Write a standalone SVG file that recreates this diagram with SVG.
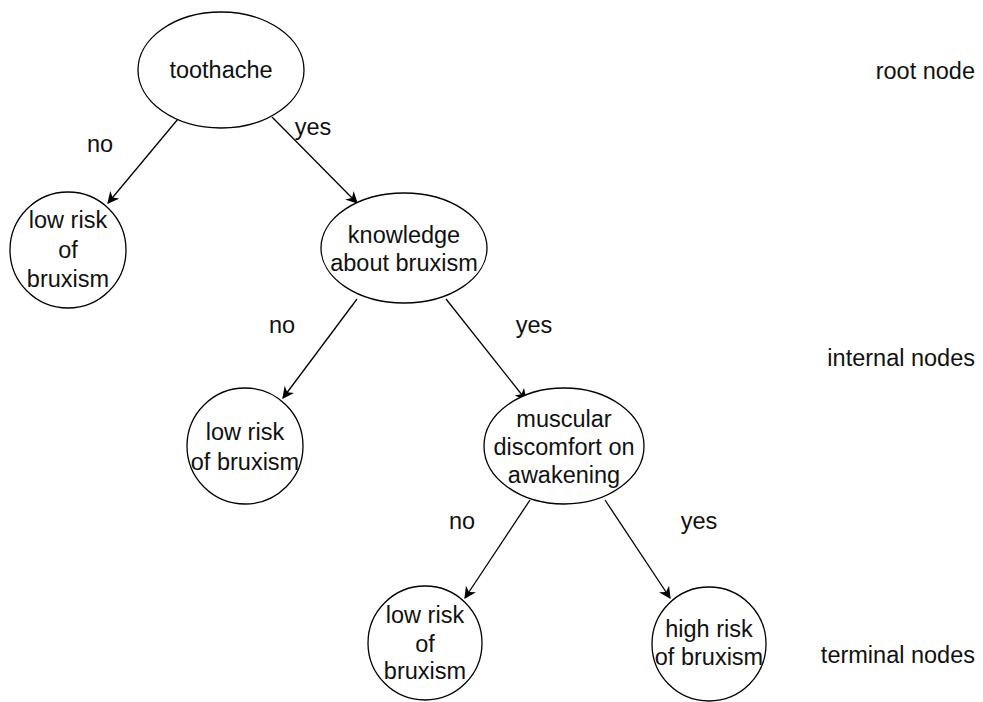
<svg xmlns="http://www.w3.org/2000/svg" width="983" height="702" viewBox="0 0 983 702">
<style>
.n{fill:#fff;stroke:#000;stroke-width:1.3}
text{font-family:"Liberation Sans",Arial,sans-serif;font-size:23.5px;fill:#111;text-anchor:middle}
.e{stroke:#000;stroke-width:1.3;fill:none;marker-end:url(#a)}
.r{text-anchor:end}
</style>
<defs>
<marker id="a" viewBox="0 0 10 10" refX="9" refY="5" markerWidth="12" markerHeight="12" markerUnits="userSpaceOnUse" orient="auto">
<path d="M0,0 L10,5 L0,10 L3,5 Z" fill="#000"/>
</marker>
</defs>
<rect width="983" height="702" fill="#fff"/>
<g id="connectors">
<line class="e" x1="178" y1="119" x2="108" y2="203"/>
<line class="e" x1="272" y1="117" x2="357" y2="203"/>
<line class="e" x1="357" y1="299" x2="283" y2="398"/>
<line class="e" x1="446" y1="299" x2="526" y2="400"/>
<line class="e" x1="530" y1="500" x2="465" y2="598"/>
<line class="e" x1="605" y1="500" x2="670" y2="598"/>
<text x="100" y="152">no</text>
<text x="313" y="135">yes</text>
<text x="282" y="333">no</text>
<text x="534" y="333">yes</text>
<text x="462" y="529">no</text>
<text x="699" y="529">yes</text>
</g>
<g id="root">
<ellipse class="n" cx="221" cy="70" rx="83" ry="58"/>
<text x="221" y="78">toothache</text>
</g>
<g id="low1">
<circle class="n" cx="68" cy="250" r="58"/>
<text x="68" y="228">low risk</text>
<text x="68" y="258">of</text>
<text x="68" y="287">bruxism</text>
</g>
<g id="knowledge">
<ellipse class="n" cx="404" cy="248" rx="83" ry="55"/>
<text x="404" y="243">knowledge</text>
<text x="404" y="271">about bruxism</text>
</g>
<g id="low2">
<circle class="n" cx="245" cy="446" r="58"/>
<text x="245" y="440">low risk</text>
<text x="245" y="470">of bruxism</text>
</g>
<g id="muscular">
<ellipse class="n" cx="564" cy="446" rx="80" ry="58"/>
<text x="564" y="427">muscular</text>
<text x="564" y="455">discomfort on</text>
<text x="564" y="483">awakening</text>
</g>
<g id="low3">
<circle class="n" cx="425" cy="643" r="57"/>
<text x="425" y="623">low risk</text>
<text x="425" y="652">of</text>
<text x="425" y="679">bruxism</text>
</g>
<g id="high">
<circle class="n" cx="709" cy="644" r="57"/>
<text x="709" y="637">high risk</text>
<text x="709" y="665">of bruxism</text>
</g>
<g id="labels">
<text class="r" x="975" y="79">root node</text>
<text class="r" x="975" y="366">internal nodes</text>
<text class="r" x="975" y="663">terminal nodes</text>
</g>
</svg>
